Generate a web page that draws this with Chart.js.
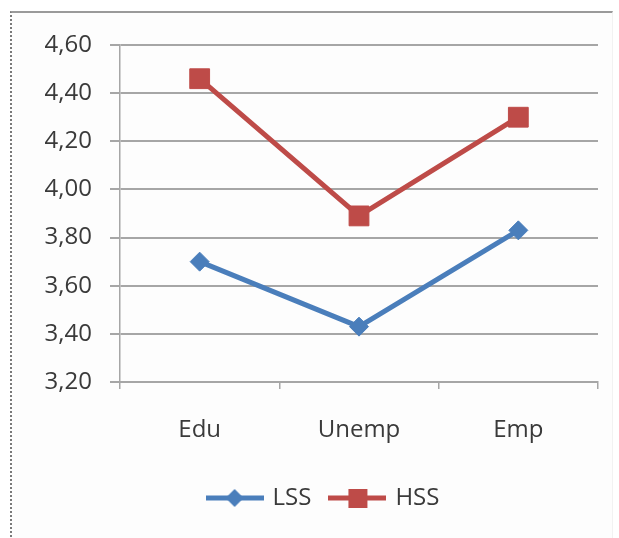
<!DOCTYPE html>
<html>
<head>
<meta charset="utf-8">
<script src="https://cdn.jsdelivr.net/npm/chart.js@4.4.1/dist/chart.umd.min.js"></script>
<style>
  html, body { margin: 0; padding: 0; background: #fff; }
  #wrap { position: relative; width: 619px; height: 538px; overflow: hidden; }
  #frame {
    position: absolute; left: 10px; top: 11px; width: 600px; height: 560px;
    border-top: 2px solid #9a9a9a; border-left: 2px dotted #7a7a7a; border-right: 1px solid #f2f2f2;
    background: #fdfdfd;
  }
  #chart { position: absolute; left: 0; top: 0; }
</style>
</head>
<body>
<div id="wrap">
  <div id="frame"></div>
  <canvas id="chart" width="619" height="538"></canvas>
</div>
<script>
// chart data
var categories = ['Edu', 'Unemp', 'Emp'];
var lssValues = [3.70, 3.43, 3.83];
var hssValues = [4.46, 3.89, 4.30];
var seriesNames = ['LSS', 'HSS'];
var yMin = 3.2, yMax = 4.6, yStep = 0.2;

var blue = '#4a7ebb';
var red = '#be4b48';
var gridGray = '#a6a6a6';
var textColor = '#3a3a3a';
var fontFamily = '"Open Sans", "Liberation Sans", sans-serif';
var fontSize = 24;

// legend marker: short line with the point shape on it
function legendMarker(color, shape) {
    var c = document.createElement('canvas');
    c.width = 58;
    c.height = 22;
    var g = c.getContext('2d');
    g.strokeStyle = color;
    g.lineWidth = 5;
    g.beginPath();
    g.moveTo(0, 11);
    g.lineTo(58, 11);
    g.stroke();
    g.fillStyle = color;
    if (shape == 'diamond') {
        g.beginPath();
        g.moveTo(29, 2);
        g.lineTo(38, 11);
        g.lineTo(29, 20);
        g.lineTo(20, 11);
        g.closePath();
        g.fill();
    } else {
        g.fillRect(20, 2, 19, 19);
    }
    return c;
}
var legendMarkers = [legendMarker(blue, 'diamond'), legendMarker(red, 'square')];

// the legend sits a bit right of centre in the original
var legendShift = {
    id: 'legendShift',
    afterUpdate: function (chart) {
        chart.legend.left += 25;
        chart.legend.right += 25;
    }
};

var ctx = document.getElementById('chart').getContext('2d');
var chart = new Chart(ctx, {
    type: 'line',
    data: {
        labels: categories,
        datasets: [{
            label: seriesNames[0],
            data: lssValues,
            borderColor: blue,
            backgroundColor: blue,
            borderWidth: 5,
            pointStyle: 'rectRot',
            pointRadius: 9.5,
            pointBorderWidth: 1,
            tension: 0
        }, {
            label: seriesNames[1],
            data: hssValues,
            borderColor: red,
            backgroundColor: red,
            borderWidth: 5,
            pointStyle: 'rect',
            pointRadius: 14,
            pointBorderWidth: 1,
            tension: 0
        }]
    },
    options: {
        responsive: false,
        animation: false,
        devicePixelRatio: 1,
        layout: { padding: { left: 0, right: 21, top: 45, bottom: 18 } },
        plugins: {
            tooltip: { enabled: false },
            legend: {
                position: 'bottom',
                labels: {
                    usePointStyle: true,
                    pointStyleWidth: 52,
                    padding: 20,
                    color: textColor,
                    font: { family: fontFamily, size: fontSize },
                    generateLabels: function (chart) {
                        return chart.data.datasets.map(function (ds, i) {
                            return {
                                text: ds.label,
                                pointStyle: legendMarkers[i],
                                fillStyle: ds.borderColor,
                                strokeStyle: ds.borderColor,
                                lineWidth: 0,
                                hidden: false,
                                datasetIndex: i,
                                fontColor: textColor
                            };
                        });
                    }
                }
            }
        },
        scales: {
            x: {
                offset: true,
                grid: { offset: true, drawOnChartArea: false, tickLength: 7, color: gridGray, lineWidth: 1.5 },
                border: { color: gridGray, width: 2 },
                ticks: { color: textColor, padding: 27, font: { family: fontFamily, size: fontSize } },
                afterFit: function (scale) { scale.height = 84; }
            },
            y: {
                min: yMin,
                max: yMax,
                grid: { color: gridGray, lineWidth: 2, tickLength: 10 },
                border: { color: gridGray, width: 1.5 },
                ticks: {
                    stepSize: yStep,
                    padding: 18,
                    color: textColor,
                    font: { family: fontFamily, size: fontSize },
                    callback: function (v) { return v.toFixed(2).replace('.', ','); }
                },
                afterFit: function (scale) { scale.width = 120; }
            }
        }
    },
    plugins: [legendShift]
});
</script>
</body>
</html>
